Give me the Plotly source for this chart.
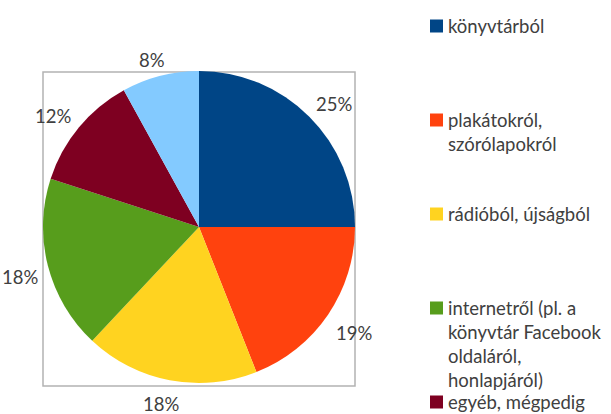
import math
import plotly.graph_objects as go

categories = [
    "könyvtárból",
    "plakátokról,<br>szórólapokról",
    "rádióból, újságból",
    "internetről (pl. a<br>könyvtár Facebook<br>oldaláról,<br>honlapjáról)",
    "egyéb, mégpedig",
    "nem tudom",
]
values = [25, 19, 18, 18, 12, 8]
colors = ["#004586", "#ff420e", "#ffd320", "#579d1c", "#7e0021", "#83caff"]

W, H = 611, 414
FONT = "Lato, 'Open Sans', sans-serif"
TXT = "#404040"
CX, CY, R = 199, 227, 156   # pie centre / radius in pixels
LABEL_GAP = 168             # anchor distance of percentage labels from centre
LABEL_SIZE = 18.5

def px(x):
    return x / W

def py(y):
    return 1 - y / H

def clamp(v):
    return max(-1.0, min(1.0, v))

fig = go.Figure()
fig.add_trace(go.Pie(
    labels=[c.replace("<br>", " ") for c in categories],
    values=values,
    sort=False,
    direction="clockwise",
    rotation=0,
    marker=dict(colors=colors, line=dict(width=0)),
    textinfo="none",
    showlegend=False,
    domain=dict(x=[px(CX - R), px(CX + R)], y=[py(CY + R), py(CY - R)]),
    hoverinfo="label+percent",
))

shapes = [dict(type="rect", xref="paper", yref="paper",
               x0=px(43), x1=px(355), y0=py(386), y1=py(72),
               line=dict(color="#b3b3b3", width=1.5), fillcolor="rgba(0,0,0,0)",
               layer="below")]
annotations = []

# percentage labels placed outside each slice at its mid-angle
total = sum(values)
cum = 0
for v in values:
    mid = (cum + v / 2) / total * 2 * math.pi
    cum += v
    s, c = math.sin(mid), math.cos(mid)
    txt = f"{round(v / total * 100)}%"
    hw = 5.4 * len(txt)
    hh = 8
    lx = CX + LABEL_GAP * s + hw * clamp(2 * s)
    ly = CY - LABEL_GAP * c - hh * clamp(2 * c) + 4
    annotations.append(dict(xref="paper", yref="paper", x=px(lx), y=py(ly),
                            xanchor="center", yanchor="middle",
                            text=txt, showarrow=False,
                            font=dict(family=FONT, size=LABEL_SIZE, color=TXT)))

# legend
for i, (cat, col) in enumerate(zip(categories, colors)):
    cy = 26 + 94 * i
    shapes.append(dict(type="rect", xref="paper", yref="paper",
                       x0=px(430), x1=px(443), y0=py(cy + 6.5), y1=py(cy - 6.5),
                       fillcolor=col, line=dict(width=0)))
    annotations.append(dict(xref="paper", yref="paper", x=px(446), y=py(cy - 13),
                            xanchor="left", yanchor="top", align="left",
                            text=cat, showarrow=False,
                            font=dict(family=FONT, size=18.5, color=TXT)))

fig.update_layout(
    width=W, height=H,
    margin=dict(l=0, r=0, t=0, b=0),
    paper_bgcolor="white", plot_bgcolor="white",
    shapes=shapes, annotations=annotations,
)
fig.write_html("out.html", config={"displayModeBar": False},
               post_script="document.body.style.margin='0';")
